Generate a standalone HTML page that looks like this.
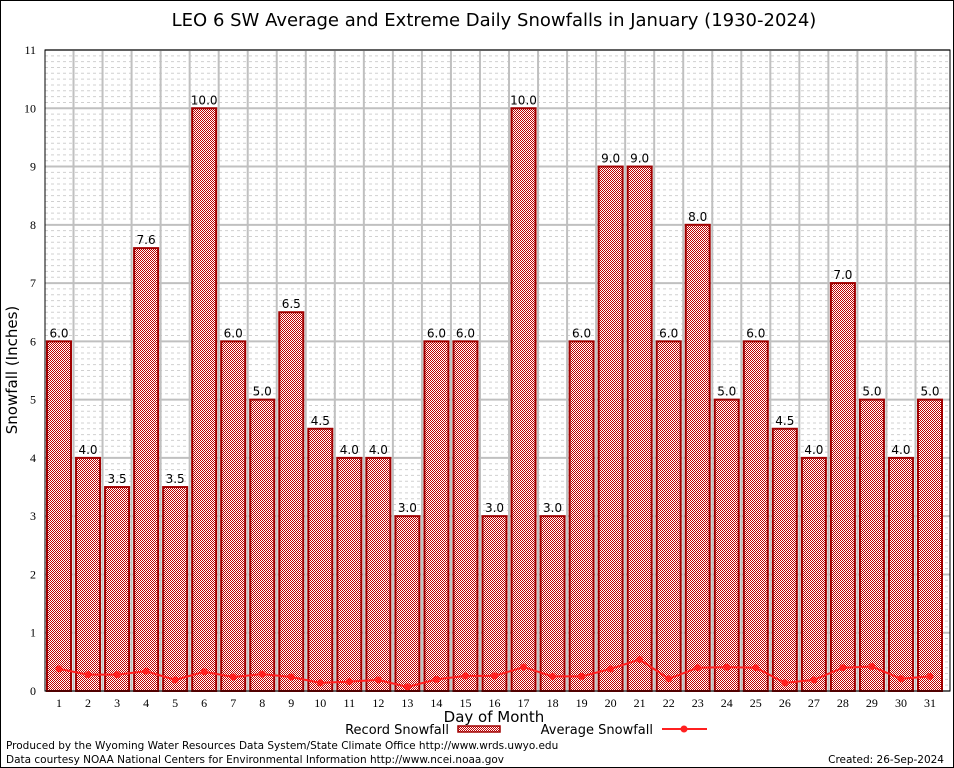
<!DOCTYPE html>
<html><head><meta charset="utf-8"><style>
body{margin:0;background:#fff}
svg{display:block}
</style></head><body>
<svg width="954" height="768" viewBox="0 0 954 768" xmlns="http://www.w3.org/2000/svg" font-family="DejaVu Sans, Liberation Sans, sans-serif">
<defs>
<pattern id="chk" width="2" height="2" patternUnits="userSpaceOnUse">
<rect width="2" height="2" fill="#fff"/><rect width="1" height="1" fill="#c00000"/><rect x="1" y="1" width="1" height="1" fill="#c00000"/>
</pattern>
</defs>
<rect x="0.5" y="0.5" width="953" height="767" fill="#fff" stroke="#000"/>
<text x="494" y="26" font-size="18" text-anchor="middle">LEO 6 SW Average and Extreme Daily Snowfalls in January (1930-2024)</text>
<g id="grid"></g>
<g id="bars"></g>
<g id="avg"></g>
<g id="axes"></g>
<text transform="translate(17,370) rotate(-90)" font-size="15" text-anchor="middle">Snowfall (Inches)</text>
<text x="494" y="722" font-size="15" text-anchor="middle">Day of Month</text>
<g>
<text x="449" y="734" font-size="13" text-anchor="end">Record Snowfall</text>
<rect x="458" y="726" width="42" height="6" fill="url(#chk)" stroke="#a00000" stroke-width="1.5"/>
<text x="653" y="734" font-size="13" text-anchor="end">Average Snowfall</text>
<line x1="662" y1="729" x2="707" y2="729" stroke="#ff2020" stroke-width="2"/>
<circle cx="684" cy="729" r="3.5" fill="#ff2020"/>
</g>
<text x="6" y="749" font-size="10.5">Produced by the Wyoming Water Resources Data System/State Climate Office http://www.wrds.uwyo.edu</text>
<text x="6" y="763" font-size="10.5">Data courtesy NOAA National Centers for Environmental Information http://www.ncei.noaa.gov</text>
<text x="944" y="763" font-size="10.5" text-anchor="end">Created: 26-Sep-2024</text>
</svg>
<script>
const days = [1,2,3,4,5,6,7,8,9,10,11,12,13,14,15,16,17,18,19,20,21,22,23,24,25,26,27,28,29,30,31];
const recordSnow = [6.0,4.0,3.5,7.6,3.5,10.0,6.0,5.0,6.5,4.5,4.0,4.0,3.0,6.0,6.0,3.0,10.0,3.0,6.0,9.0,9.0,6.0,8.0,5.0,6.0,4.5,4.0,7.0,5.0,4.0,5.0];
const avgSnow = [0.38,0.28,0.28,0.34,0.19,0.33,0.24,0.29,0.24,0.14,0.16,0.19,0.07,0.20,0.26,0.26,0.41,0.25,0.25,0.38,0.54,0.21,0.40,0.41,0.40,0.14,0.19,0.40,0.42,0.21,0.25];
const yTicks = [0,1,2,3,4,5,6,7,8,9,10,11];

const NS='http://www.w3.org/2000/svg';
const L=45,R=950,T=50,B=691,yMax=11;
const xs=d=>59+(d-1)*(930-59)/30;
const ys=v=>B-(v/yMax)*(B-T);
function mk(tag,attrs,parent){const e=document.createElementNS(NS,tag);for(const k in attrs)e.setAttribute(k,attrs[k]);parent.appendChild(e);return e;}
const grid=document.getElementById('grid'),bars=document.getElementById('bars'),avg=document.getElementById('avg'),axes=document.getElementById('axes');
mk('rect',{x:L,y:T,width:R-L,height:B-T,fill:'#fff'},grid);
for(let i=1;i<yMax*10;i++){if(i%10===0)continue;const y=ys(i/10);
const l=mk('line',{x1:L,x2:R,y1:y,y2:y,stroke:'#d0d0d0','stroke-width':1,'stroke-dasharray':'3,3'},grid);

}
yTicks.forEach(t=>{const y=ys(t);
const l=mk('line',{x1:L,x2:R,y1:y,y2:y,stroke:'#c0c0c0','stroke-width':2},grid);


const tx=mk('text',{x:36,y:y+4,'font-size':12,'text-anchor':'end','font-family':'Liberation Serif, serif'},axes);tx.textContent=t;

});
for(let d=1;d<31;d++){const x=xs(d+0.5);
const l=mk('line',{x1:x,x2:x,y1:T,y2:B,stroke:'#c0c0c0','stroke-width':2},grid);

}
days.forEach((d,i)=>{const v=recordSnow[i],x=xs(d);
const r=mk('rect',{x:x-12,y:ys(v),width:24,height:B-ys(v),fill:'url(#chk)',stroke:'#a00000','stroke-width':2},bars);


const t=mk('text',{x:x,y:ys(v)-4,'font-size':12,'text-anchor':'middle'},bars);t.textContent=v.toFixed(1);


const xl=mk('text',{x:x,y:707,'font-size':12,'text-anchor':'middle','font-family':'Liberation Serif, serif'},axes);xl.textContent=d;

});
const pl=mk('polyline',{points:days.map((d,i)=>xs(d)+','+ys(avgSnow[i])).join(' '),fill:'none',stroke:'#ff2020','stroke-width':2},avg);


days.forEach((d,i)=>{const c=mk('circle',{cx:xs(d),cy:ys(avgSnow[i]),r:3.5,fill:'#ff2020'},avg);

});
const f=mk('rect',{x:L,y:T,width:R-L,height:B-T,fill:'none',stroke:'#000','stroke-width':1},axes);


</script>
</body></html>
